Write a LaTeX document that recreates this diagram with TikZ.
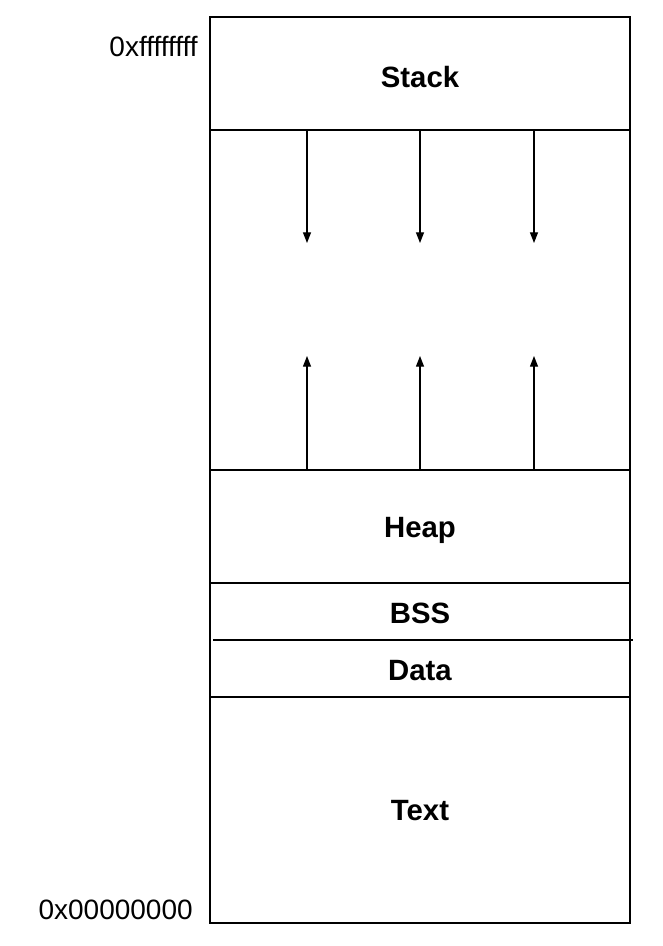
\documentclass[tikz,border=0pt]{standalone}
\usepackage{fontspec}
\setmainfont{Liberation Sans}
\usetikzlibrary{arrows.meta}
\begin{document}
\begin{tikzpicture}[x=0.75pt,y=0.75pt,yscale=-1,xscale=1,
  seglabel/.style={inner sep=0.75pt,font=\fontsize{22}{26}\selectfont\bfseries},
  addrlabel/.style={inner sep=0.75pt,anchor=east,font=\fontsize{21}{25}\selectfont},
  growarrow/.style={-{Triangle[length=8pt,width=6pt]},line width=0.9pt}]
    \useasboundingbox (0,0) rectangle (663,946);
    %Shape: Rectangle
    \draw [line width=1.2pt]  (210,17) -- (630,17) -- (630,923) -- (210,923) -- cycle ;
    %Straight Lines
    \draw [line width=1.2pt]   (210,130) -- (630,130) ;
    \draw [line width=1.2pt]   (210,470) -- (630,470) ;
    \draw [line width=1.2pt]   (210,583) -- (630,583) ;
    \draw [line width=1.2pt]   (213,640) -- (633,640) ;
    \draw [line width=1.2pt]   (210,697) -- (630,697) ;
    % Arrows
    \foreach \i/\x in {a/307,b/420,c/534}{
      \coordinate (stacktop\i) at (\x,130);
      \coordinate (stackend\i) at (\x,243);
      \coordinate (heaptop\i) at (\x,470);
      \coordinate (heapend\i) at (\x,356);
      \draw [growarrow] (stacktop\i) -- (stackend\i);
      \draw [growarrow] (heaptop\i) -- (heapend\i);
    }
    % Text Node
    \node [seglabel] (stack) at (420,77) {Stack};
    \node [seglabel] (heap) at (420,530) {Heap};
    \node [seglabel] (bss) at (420,613) {BSS};
    \node [seglabel] (data) at (420,671) {Data};
    \node [seglabel] (text) at (420,811) {Text};
    \node [addrlabel] (high) at (199,47) {0xffffffff};
    \node [addrlabel] (low) at (194,910) {0x00000000};
\end{tikzpicture}
\end{document}
